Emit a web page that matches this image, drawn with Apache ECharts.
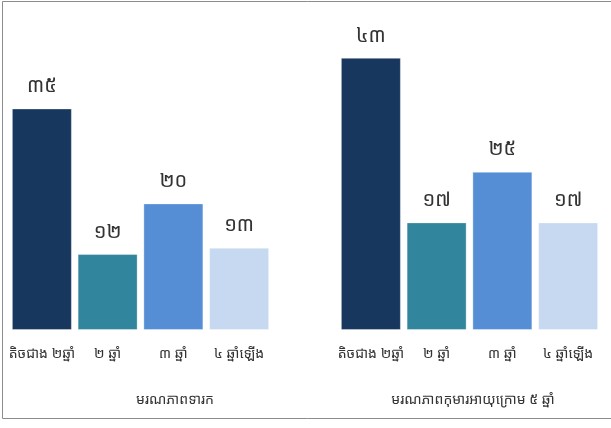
<!DOCTYPE html>
<html>
<head>
<meta charset="utf-8">
<script src="https://cdn.jsdelivr.net/npm/echarts@6/dist/echarts.min.js"></script>
<style>
html,body{margin:0;padding:0;background:#fff;}
#chart{width:611px;height:428px;}
</style>
</head>
<body>
<div id="chart"></div>
<script>
const categories = ['តិចជាង ២ឆ្នាំ', '២ ឆ្នាំ', '៣ ឆ្នាំ', '៤ ឆ្នាំឡើង'];
const groupTitles = ['មរណភាពទារក', 'មរណភាពកុមារអាយុក្រោម ៥ ឆ្នាំ'];
const infantValues = [35, 12, 20, 13];
const under5Values = [43, 17, 25, 17];
const valueLabelsInfant = ['៣៥', '១២', '២០', '១៣'];
const valueLabelsUnder5 = ['៤៣', '១៧', '២៥', '១៧'];
const barColors = ['#17375E', '#31859C', '#558ED5', '#C6D9F1'];

const FONT = '"Noto Sans Khmer", "Khmer OS", "Noto Sans", sans-serif';

function makeData(vals, labels) {
  return vals.map((v, i) => ({
    value: v,
    itemStyle: { color: barColors[i] },
    label: { formatter: labels[i] }
  }));
}

const chart = echarts.init(document.getElementById('chart'));
const xAxisBase = {
  type: 'category',
  data: categories,
  axisLine: { show: false },
  axisTick: { show: false },
  axisLabel: { color: '#333', fontSize: 14, margin: 17, fontFamily: FONT, interval: 0 }
};
const yAxisBase = { type: 'value', min: 0, max: 50, show: false, splitLine: { show: false } };
const seriesBase = {
  type: 'bar',
  barWidth: 60,
  label: { show: true, position: 'top', distance: 12, fontSize: 20, color: '#333', fontFamily: FONT },
  itemStyle: { borderColor: 'rgba(255,255,255,0.35)', borderWidth: 1 }
};

chart.setOption({
  backgroundColor: '#fff',
  animation: false,
  grid: [
    { left: 9, width: 263, top: 13.5, height: 316.5 },
    { left: 338, width: 263, top: 13.5, height: 316.5 }
  ],
  xAxis: [
    Object.assign({}, xAxisBase, { gridIndex: 0 }),
    Object.assign({}, xAxisBase, { gridIndex: 1 })
  ],
  yAxis: [
    Object.assign({}, yAxisBase, { gridIndex: 0 }),
    Object.assign({}, yAxisBase, { gridIndex: 1 })
  ],
  series: [
    Object.assign({}, seriesBase, { xAxisIndex: 0, yAxisIndex: 0, data: makeData(infantValues, valueLabelsInfant) }),
    Object.assign({}, seriesBase, { xAxisIndex: 1, yAxisIndex: 1, data: makeData(under5Values, valueLabelsUnder5) })
  ],
  graphic: [{
    type: 'rect',
    shape: { x: 2.5, y: 1.5, width: 612, height: 417 },
    style: { fill: 'none', stroke: '#8c8c8c', lineWidth: 1 },
    silent: true
  }, {
    type: 'text',
    x: 175, y: 400,
    style: { text: groupTitles[0], fontSize: 14, fontFamily: FONT, fill: '#333', align: 'center', verticalAlign: 'middle' }
  }, {
    type: 'text',
    x: 473, y: 400,
    style: { text: groupTitles[1], fontSize: 14, fontFamily: FONT, fill: '#333', align: 'center', verticalAlign: 'middle' }
  }]
});
</script>
</body>
</html>
